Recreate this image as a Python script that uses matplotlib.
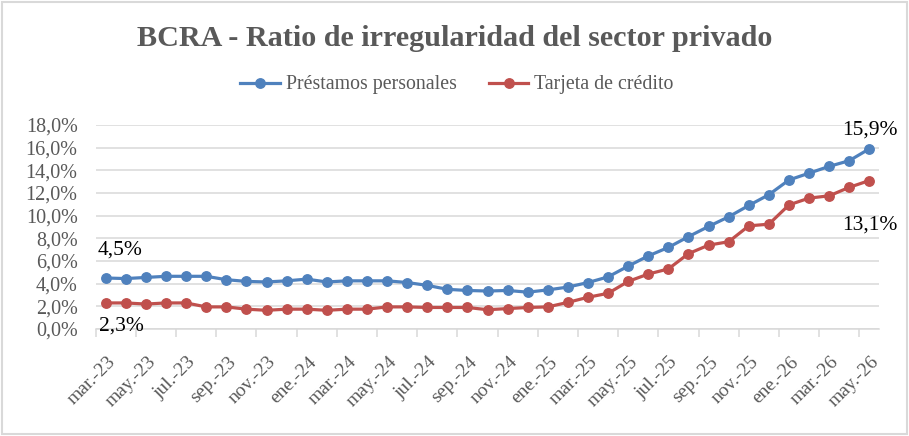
import numpy as np
import matplotlib
matplotlib.use("Agg")
import matplotlib.pyplot as plt
import matplotlib.transforms as mtransforms
from matplotlib.patches import Rectangle

# Datos
meses = ["ene", "feb", "mar", "abr", "may", "jun", "jul", "ago", "sep", "oct", "nov", "dic"]
categorias = [f"{meses[(2 + i) % 12]}.-{23 + (2 + i) // 12}" for i in range(39)]  # mar.-23 ... may.-26

prestamos_personales = [4.5, 4.45, 4.55, 4.65, 4.65, 4.65, 4.35, 4.2, 4.15, 4.25,
                        4.4, 4.15, 4.25, 4.25, 4.25, 4.1, 3.85, 3.5, 3.4, 3.35,
                        3.4, 3.25, 3.45, 3.7, 4.1, 4.6, 5.55, 6.45, 7.2, 8.15,
                        9.05, 9.9, 10.9, 11.85, 13.15, 13.75, 14.35, 14.85, 15.9]
tarjeta_credito = [2.3, 2.3, 2.2, 2.3, 2.3, 1.95, 1.95, 1.75, 1.65, 1.75,
                   1.75, 1.65, 1.75, 1.75, 1.95, 1.95, 1.9, 1.9, 1.9, 1.7,
                   1.8, 1.9, 1.95, 2.35, 2.8, 3.15, 4.2, 4.85, 5.3, 6.65,
                   7.4, 7.7, 9.1, 9.25, 10.95, 11.55, 11.75, 12.5, 13.1]

y_ticks = [0, 2, 4, 6, 8, 10, 12, 14, 16, 18]

AZUL = "#4F81BD"
ROJO = "#C0504D"
GRIS = "#595959"
GRILLA = "#D9D9D9"

plt.rcParams['font.family'] = ['Liberation Serif', 'DejaVu Serif']

fig = plt.figure(figsize=(9.09, 4.36), dpi=100)
ax = fig.add_axes([95.7 / 909, 1 - 329 / 436, (879.4 - 95.7) / 909, (329 - 125) / 436])

x = np.arange(len(categorias))
ax.plot(x, prestamos_personales, color=AZUL, lw=2.3, marker='o', ms=6.8, label='Préstamos personales', zorder=3)
ax.plot(x, tarjeta_credito, color=ROJO, lw=2.3, marker='o', ms=6.8, label='Tarjeta de crédito', zorder=3)

ax.set_xlim(-0.5, len(categorias) - 0.5)
ax.set_ylim(0, 18)
ax.set_yticks(y_ticks)
ax.set_yticklabels([f"{v:.1f}%".replace(".", ",") for v in y_ticks], color=GRIS, fontsize=14.5)
ax.tick_params(axis='y', length=0, pad=13)
ax.grid(axis='y', color=GRILLA, lw=1.1)
ax.set_axisbelow(True)

for s in ['top', 'right', 'left']:
    ax.spines[s].set_visible(False)
ax.spines['bottom'].set_color(GRILLA)
ax.spines['bottom'].set_linewidth(1.1)

# etiquetas cada dos meses, marcas entre categorías
ax.set_xticks(x[::2])
ax.set_xticklabels(categorias[::2], rotation=45, ha='right', va='center',
                   rotation_mode='anchor', color=GRIS, fontsize=14)
ax.set_xticks(np.arange(-0.5, len(categorias), 2), minor=True)
ax.tick_params(axis='x', which='major', length=0, pad=22)
ax.tick_params(axis='x', which='minor', length=6, color=GRILLA, width=1.1)
desplazar = mtransforms.ScaledTranslation(7 / 100, 0, fig.dpi_scale_trans)
for lab in ax.get_xticklabels():
    lab.set_transform(lab.get_transform() + desplazar)

# rótulos de datos
ax.annotate("4,5%", (0, prestamos_personales[0]), xytext=(14, 28), textcoords='offset pixels',
            ha='center', va='center', fontsize=15.5)
ax.annotate("2,3%", (0, tarjeta_credito[0]), xytext=(16, -23), textcoords='offset pixels',
            ha='center', va='center', fontsize=15.5)
ax.annotate("15,9%", (x[-1], prestamos_personales[-1]), xytext=(1, 19), textcoords='offset pixels',
            ha='center', va='center', fontsize=15.5)
ax.annotate("13,1%", (x[-1], tarjeta_credito[-1]), xytext=(1, -45), textcoords='offset pixels',
            ha='center', va='center', fontsize=15.5)

fig.text(0.5, 1 - 39 / 436, "BCRA - Ratio de irregularidad del sector privado",
         ha='center', va='center', fontsize=21.7, fontweight='bold', color=GRIS)

fig.legend(loc='center', bbox_to_anchor=(457 / 909, 1 - 85 / 436), ncol=2, frameon=False,
           fontsize=14.3, labelcolor=GRIS, handlelength=2.0, handletextpad=0.3, columnspacing=1.6)

fig.patches.append(Rectangle((2 / 909, 2 / 436), 905 / 909, 432 / 436, transform=fig.transFigure,
                             fill=False, edgecolor=GRILLA, lw=1.5))

fig.savefig("out.png", dpi=100)
